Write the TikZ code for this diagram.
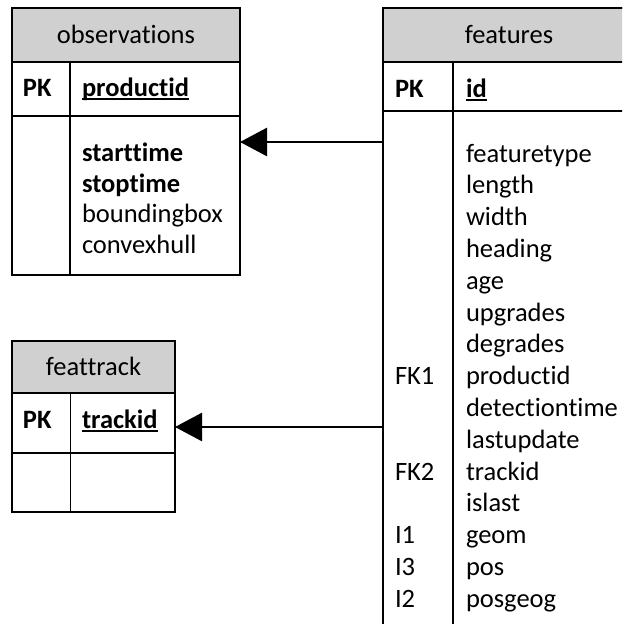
\documentclass[tikz,border=0pt]{standalone}
\usepackage{fontspec}
\setmainfont{Carlito}[Ligatures=NoCommon]
\usetikzlibrary{arrows.meta}
\definecolor{hdrgray}{RGB}{208,208,208}
\begin{document}
\begin{tikzpicture}[x=1pt,y=-1pt,
  frame/.style={draw=black, line width=1.8pt, inner sep=0pt, outer sep=0pt, anchor=north west},
  hdr/.style={frame, fill=hdrgray},
  rule/.style={draw=black, line width=1.8pt},
  txt/.style={inner sep=0pt, outer sep=0pt, anchor=base west, font=\fontsize{26.5}{31}\selectfont},
  title/.style={txt, anchor=base},
  keytxt/.style={txt, font=\fontsize{26.5}{31}\selectfont\bfseries},
  uline/.style={draw=black, line width=1.6pt},
  fk/.style={draw=black, line width=2.7pt, -{Triangle[length=27pt,width=28pt]}}]
\useasboundingbox (0,0) rectangle (622,624);
\clip (0,0) rectangle (622,624);

% ---- observations ----
\node[frame, minimum width=228pt, minimum height=267pt] (obs) at (12,8) {};
\node[hdr, minimum width=228pt, minimum height=54pt] (obsH) at (12,8) {};
\draw[rule] (12,116) -- (240,116);
\draw[rule] (70,62) -- (70,275);
\node[title] (obsT) at (126,43) {observations};
\node[keytxt] (obsPK) at (23,96) {PK};
\node[keytxt] (obsPid) at (82,96) {productid};
\draw[uline] ([yshift=-3pt]obsPid.base west) -- ([yshift=-3pt]obsPid.base east);
\node[keytxt] (obsA) at (82,161) {starttime};
\node[keytxt] (obsB) at (82,192) {stoptime};
\node[txt] (obsC) at (82,222) {boundingbox};
\node[txt] (obsD) at (82,253) {convexhull};

% ---- feattrack ----
\node[frame, minimum width=163pt, minimum height=171pt] (trk) at (12,341) {};
\node[hdr, minimum width=163pt, minimum height=52pt] (trkH) at (12,341) {};
\draw[rule] (12,453) -- (175,453);
\draw[rule] (70.5,393) -- (70.5,512);
\node[title] (trkT) at (93.5,375) {feattrack};
\node[keytxt] (trkPK) at (23,428) {PK};
\node[keytxt] (trkId) at (82,428) {trackid};
\draw[uline] ([yshift=-3pt]trkId.base west) -- ([yshift=-3pt]trkId.base east);

% ---- features ----
\node[frame, minimum width=252pt, minimum height=700pt] (feat) at (383,8) {};
\node[hdr, minimum width=252pt, minimum height=54pt] (featH) at (383,8) {};
\draw[rule] (383,111) -- (635,111);
\draw[rule] (453,62) -- (453,720);
\node[title] (featT) at (509,43) {features};
\node[keytxt] (featPK) at (395,97) {PK};
\node[keytxt] (featId) at (466,97) {id};
\draw[uline] ([yshift=-3pt]featId.base west) -- ([yshift=-3pt]featId.base east);
\foreach \name [count=\i from 0] in {featuretype,length,width,heading,age,upgrades,degrades,productid,detectiontime,lastupdate,trackid,islast,geom,pos,posgeog}
  \node[txt] (f\i) at (466,162+31.8*\i) {\name};
\node[txt] (k7)  at (395,162+31.8*7)  {FK1};
\node[txt] (k10) at (395,162+31.8*10) {FK2};
\node[txt] (k12) at (395,162+31.8*12) {I1};
\node[txt] (k13) at (395,162+31.8*13) {I3};
\node[txt] (k14) at (395,162+31.8*14) {I2};

% ---- references ----
\coordinate (refA) at (0,142);
\coordinate (refB) at (0,427);
\draw[fk] (feat.west |- refA) -- (obs.east |- refA);
\draw[fk] (feat.west |- refB) -- (trk.east |- refB);
\end{tikzpicture}
\end{document}
